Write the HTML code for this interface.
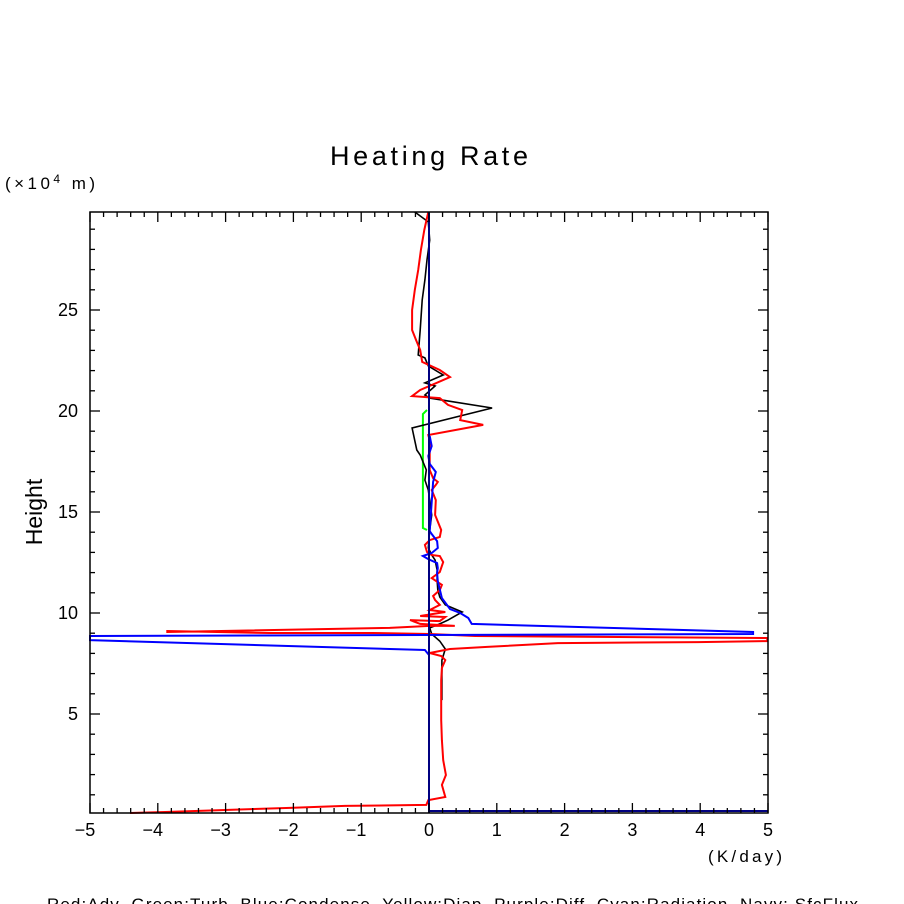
<!DOCTYPE html>
<html><head><meta charset="utf-8"><style>
html,body{margin:0;padding:0;background:#fff;}
svg{display:block;font-family:"Liberation Sans",sans-serif;}
</style></head><body>
<svg id="chart" width="904" height="904" viewBox="0 0 904 904" xmlns="http://www.w3.org/2000/svg">
<rect width="904" height="904" fill="#fff"/>
<text x="330" y="165" font-size="27" textLength="198" lengthAdjust="spacing">Heating Rate</text>
<text x="5" y="189" font-size="17" textLength="90" lengthAdjust="spacing">(×10<tspan font-size="12" dy="-6">4</tspan><tspan dy="6"> m)</tspan></text>
<text x="42" y="512" font-size="23" text-anchor="middle" transform="rotate(-90 42 512)">Height</text>
<text x="708" y="862" font-size="17" textLength="74" lengthAdjust="spacing">(K/day)</text>
<text x="47" y="910" font-size="17" textLength="811" lengthAdjust="spacing" style="white-space:pre">Red:Adv  Green:Turb  Blue:Condense  Yellow:Diap  Purple:Diff  Cyan:Radiation  Navy: SfcFlux</text>
<g id="plot"></g>
</svg>
<script>
const xTicks=[-5,-4,-3,-2,-1,0,1,2,3,4,5];
const yTicks=[5,10,15,20,25];
const redX=[-4.41,-3.89,-3.01,-2.05,-1.24,-0.04,-0.01,0.24,0.19,0.25,0.21,0.19,0.18,0.18,0.18,0.19,0.24,0.18,0.01,0.31,0.86,1.90,3.97,4.99,4.99,0.68,0.01,-0.83,-2.35,-3.86,-3.86,-0.58,0.01,0.38,-0.13,-0.28,0.16,0.24,-0.13,0.24,0.01,0.16,0.09,0.06,0.16,0.19,0.04,0.16,0.21,0.16,0.04,-0.03,-0.06,0.01,0.16,0.18,0.09,0.10,0.04,0.10,0.13,0.06,0.01,0.01,-0.01,0.80,0.46,0.49,0.28,0.16,-0.25,-0.13,0.31,0.16,-0.10,-0.13,-0.19,-0.25,-0.25,-0.21,-0.16,-0.12,-0.07,-0.01];
const redH=[0.10,0.15,0.25,0.35,0.45,0.50,0.74,0.89,1.49,1.98,2.72,3.71,4.70,5.69,6.68,7.28,7.67,7.87,8.02,8.22,8.32,8.51,8.56,8.61,8.76,8.86,8.96,9.01,9.01,9.11,9.06,9.26,9.36,9.36,9.46,9.65,9.60,9.80,9.85,10.05,10.15,10.40,10.64,10.84,11.14,11.39,11.73,12.03,12.52,12.82,12.87,13.02,13.37,13.61,13.76,14.11,14.85,15.59,16.09,16.34,16.49,16.68,17.08,18.56,18.81,19.31,19.55,20.05,20.30,20.64,20.74,21.04,21.68,22.03,22.43,23.02,23.51,24.01,25.00,25.99,26.98,27.97,28.96,29.85];
const blackX=[0.19,0.19,0.24,0.16,0.04,0.01,0.16,0.28,0.49,0.24,0.16,0.13,0.12,0.12,0.09,0.04,-0.01,0.01,0.04,0.01,-0.01,-0.06,-0.04,-0.13,-0.18,-0.25,0.93,0.01,-0.06,0.09,-0.06,0.21,-0.01,-0.06,-0.16,-0.13,-0.10,-0.06,-0.03,0.01,-0.01,-0.21];
const blackH=[5.69,7.67,8.22,8.61,8.96,9.26,9.46,9.65,10.05,10.40,10.79,11.14,11.63,12.13,12.62,12.87,13.22,14.11,14.85,15.59,16.09,16.58,17.08,17.82,18.07,19.16,20.15,20.64,20.79,21.24,21.39,21.78,22.23,22.63,22.77,24.01,25.50,26.49,27.48,28.46,29.36,29.85];
const greenX=[-0.03,-0.09,-0.09,-0.03];
const greenH=[14.11,14.21,19.85,20.05];
const blueX=[0.0,-0.06,-5.0,-5.0,4.78,4.78,0.63,0.58,0.46,0.31,0.19,0.13,0.12,0.13,0.12,-0.01,-0.09,0.04,0.13,0.12,0.04,0.01,0.06,0.10,0.01,-0.01,0.04,0.01];
const blueH=[7.92,8.17,8.66,8.86,8.96,9.06,9.46,9.75,10.0,10.2,10.74,11.58,11.98,12.23,12.47,12.67,12.82,12.97,13.22,13.56,13.91,14.06,16.49,16.98,17.38,17.77,18.26,18.76];
const navyX=[0,0,0,5];
const navyH=[29.85,0.1,0.2,0.2];

const L=90,R=768,T=212,B=813;
function sx(v){return 429+67.8*v;}
function sy(h){return 815-20.2*h;}
const NS="http://www.w3.org/2000/svg";
const g=document.getElementById('plot');
function mk(tag,attrs){const e=document.createElementNS(NS,tag);for(const k in attrs)e.setAttribute(k,attrs[k]);g.appendChild(e);return e;}
function series(xs,hs,color,name,w){
  const pts=xs.map((v,i)=>sx(v).toFixed(1)+','+sy(hs[i]).toFixed(1)).join(' ');
  const e=mk('polyline',{points:pts,fill:'none',stroke:color,'stroke-width':w,'stroke-linejoin':'miter'});
  
  
}
series(greenX,greenH,'#00ff00','turb-line',2);
series(blackX,blackH,'#000','black-line',1.6);
series(redX,redH,'#ff0000','adv-line',2);
series(blueX,blueH,'#0000ff','condense-line',2);
(function(){
  const a=mk('line',{x1:sx(navyX[0]),y1:sy(navyH[0]),x2:sx(navyX[1]),y2:sy(navyH[1]),stroke:'#000080','stroke-width':2});
  
  
  const b=mk('line',{x1:sx(navyX[2]),y1:sy(navyH[2]),x2:sx(navyX[3]),y2:sy(navyH[3]),stroke:'#000080','stroke-width':2});
  
  
})();
const frame=mk('rect',{x:L,y:T,width:R-L,height:B-T,fill:'none',stroke:'#000','stroke-width':1.5});


for(let i=0;i<=50;i++){
  const v=-5+i*0.2, x=sx(v), major=(i%5===0), len=major?10:5;
  mk('line',{x1:x,y1:B,x2:x,y2:B-len,stroke:'#000','stroke-width':1.3});
  mk('line',{x1:x,y1:T,x2:x,y2:T+len,stroke:'#000','stroke-width':1.3});
}
xTicks.forEach(v=>{
  const t=mk('text',{x:sx(v)-(v<0?5:0),y:836,'font-size':18,'text-anchor':'middle'});
  t.textContent=(v<0?'\u2212'+(-v):String(v));
  
  
});
for(let h=1;h<=29;h++){
  const y=sy(h), major=(h%5===0), len=major?10:5;
  mk('line',{x1:L,y1:y,x2:L+len,y2:y,stroke:'#000','stroke-width':1.3});
  mk('line',{x1:R,y1:y,x2:R-len,y2:y,stroke:'#000','stroke-width':1.3});
}
yTicks.forEach(v=>{
  const t=mk('text',{x:78,y:sy(v)+6,'font-size':18,'text-anchor':'end'});
  t.textContent=String(v);
  
  
});
</script>
</body></html>
